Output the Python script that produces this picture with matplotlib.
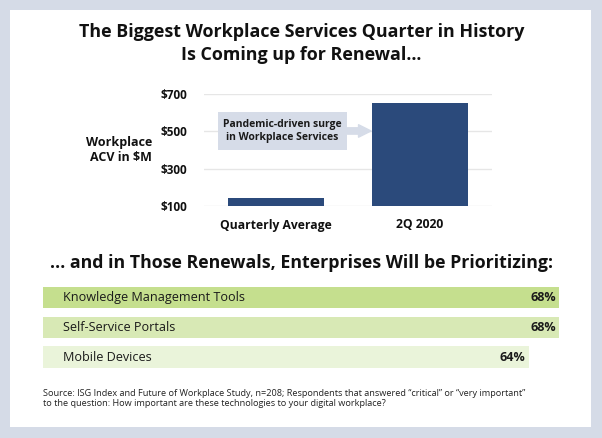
import matplotlib
matplotlib.use("Agg")
import matplotlib.pyplot as plt
from matplotlib.patches import Rectangle

# ---- data ----
categories = ["Quarterly Average", "2Q 2020"]
acv_values = [143, 652]
y_ticks = [100, 300, 500, 700]
y_tick_labels = ["$100", "$300", "$500", "$700"]

priorities = ["Knowledge Management Tools", "Self-Service Portals", "Mobile Devices"]
priority_pct = [68, 68, 64]
priority_colors = ["#c5df8e", "#d8e9b5", "#eaf4da"]

W, H = 602, 438
plt.rcParams['font.family'] = ['Open Sans', 'DejaVu Sans']
fig = plt.figure(figsize=(W / 100, H / 100), dpi=100)
fig.patch.set_facecolor("#d5dbe7")

def box(x0, y0, x1, y1):
    return [x0 / W, 1 - y1 / H, (x1 - x0) / W, (y1 - y0) / H]

# white panel
fig.patches.append(Rectangle((10 / W, 1 - 427 / H), 581 / W, 417 / H,
                             transform=fig.transFigure, facecolor="white",
                             edgecolor="none", zorder=-5))

# titles
fig.text(301.5 / W, 1 - 32 / H, "The Biggest Workplace Services Quarter in History",
         ha="center", va="center", fontsize=12.9, fontweight="bold", color="#111111")
fig.text(301.5 / W, 1 - 55 / H, "Is Coming up for Renewal…",
         ha="center", va="center", fontsize=12.9, fontweight="bold", color="#111111")

# ---- top bar chart ----
ax = fig.add_axes(box(204, 94, 492, 206))
ax.set_facecolor("none")
x = list(range(len(categories)))
ax.bar(x, [v - 100 for v in acv_values], bottom=100, width=0.67,
       color="#2b4a7b", zorder=3)
ax.set_xlim(-0.5, 1.5)
ax.set_ylim(100, 700)
ax.set_yticks(y_ticks)
ax.set_yticklabels(y_tick_labels, fontsize=8.5, fontweight="bold", color="#111111")
ax.set_xticks(x)
ax.set_xticklabels(categories, fontsize=8.7, fontweight="bold", color="#111111")
ax.tick_params(axis="both", length=0)
ax.tick_params(axis="y", pad=12)
ax.tick_params(axis="x", pad=9)
ax.yaxis.grid(True, color="#e6e6e6", linewidth=1, zorder=0)
ax.set_axisbelow(True)
for s in ax.spines.values():
    s.set_visible(False)

fig.text(152 / W, 1 - 150 / H, "Workplace\nACV in $M", ha="right", va="center",
         fontsize=9, fontweight="bold", color="#111111", linespacing=1.25)

# annotation box and arrow
ax.add_patch(Rectangle((-0.404, 400), 0.899, 204, facecolor="#d6dce8",
                       edgecolor="none", zorder=4))
ax.text(0.045, 502, "Pandemic-driven surge\nin Workplace Services", ha="center",
        va="center", fontsize=7.5, fontweight="bold", color="#1a1a1a", zorder=5,
        linespacing=1.3)
ax.annotate("", xy=(0.66, 502), xytext=(0.495, 502),
            arrowprops=dict(arrowstyle="simple,head_length=0.75,head_width=0.75,tail_width=0.38",
                            color="#d6dce8", mutation_scale=12, shrinkA=0, shrinkB=0),
            zorder=4)

# second heading
fig.text(301 / W, 1 - 263 / H, "… and in Those Renewals, Enterprises Will be Prioritizing:",
         ha="center", va="center", fontsize=12.8, fontweight="bold", color="#111111")

# ---- horizontal bars ----
ax2 = fig.add_axes(box(43, 282.6, 559, 371.9))
ax2.set_facecolor("none")
ypos = list(range(len(priorities)))
ax2.barh(ypos, priority_pct, height=0.71, color=priority_colors, left=0)
ax2.set_xlim(0, 68)
ax2.set_ylim(2.5, -0.5)
ax2.axis("off")
for i, (lab, v) in enumerate(zip(priorities, priority_pct)):
    ax2.text(2.6, i, lab, ha="left", va="center", fontsize=9.1, color="#1a1a1a")
    ax2.text(v - 0.4, i, f"{v}%", ha="right", va="center", fontsize=9,
             fontweight="bold", color="#1a1a1a")

# source
fig.text(43 / W, 1 - 394 / H,
         "Source: ISG Index and Future of Workplace Study, n=208; Respondents that answered “critical” or “very important”",
         ha="left", va="center", fontsize=6.6, color="#222222")
fig.text(43 / W, 1 - 404 / H,
         "to the question: How important are these technologies to your digital workplace?",
         ha="left", va="center", fontsize=6.6, color="#222222")

fig.savefig("out.png", dpi=100, facecolor=fig.get_facecolor())
